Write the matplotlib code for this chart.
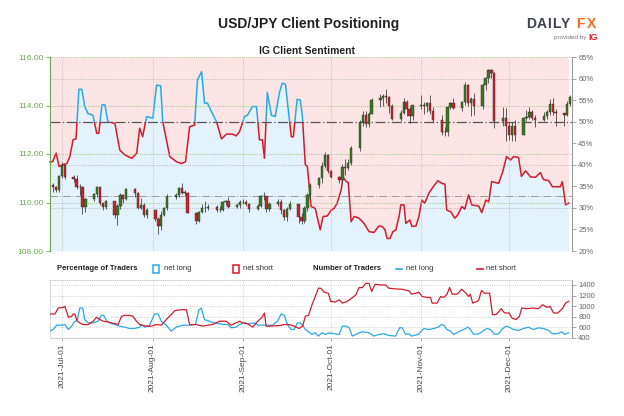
import numpy as np
import pandas as pd
import matplotlib
matplotlib.use('Agg')
import matplotlib.pyplot as plt
import matplotlib.dates as mdates
from matplotlib.patches import Rectangle
from matplotlib.lines import Line2D
from datetime import datetime

plt.rcParams['font.family'] = ['Liberation Sans', 'DejaVu Sans']

# USD/JPY daily candles, business days 2021-06-28 .. 2021-12-22
days = pd.bdate_range('2021-06-28', '2021-12-22')
close = [110.62, 110.50, 111.10,
         111.54, 111.05, 110.95, 110.62, 110.64, 109.80, 110.14, 110.35, 110.62, 109.97, 109.82,
         110.06, 109.49, 109.84, 110.31, 110.16, 110.55, 110.39, 109.77, 109.90, 109.48, 109.70,
         109.30, 109.05, 109.47, 109.77, 110.24, 110.29, 110.58, 110.41, 110.40, 109.58, 109.24,
         109.61, 109.76, 109.77, 109.80, 109.71, 109.68, 110.01, 110.05, 109.83, 109.91, 110.02,
         110.01, 109.93, 109.72, 109.85, 110.28, 110.25, 109.72, 109.93, 110.02, 109.68, 109.39,
         109.72, 109.92, 109.40, 109.22, 109.78, 110.32, 110.74, 111.00, 111.50, 111.94, 111.28,
         111.04, 110.92, 111.45, 111.41, 111.62, 112.23, 113.31, 113.61, 113.23, 113.67, 114.21,
         114.32, 114.40, 114.36, 114.00, 113.45, 113.68, 114.13, 113.84, 113.58, 114.00,
         114.03, 113.96, 114.09, 113.76, 113.42, 112.89, 112.89, 113.92, 114.12, 113.90, 114.13,
         114.83, 114.10, 114.28, 114.00, 114.86, 115.12, 115.45, 115.35, 113.38, 113.48, 113.16,
         112.79, 113.16, 112.80, 113.47, 113.54, 113.72, 113.48, 113.40, 113.56, 113.73, 114.07,
         113.72, 113.71, 113.60, 114.08, 114.35]
high = [110.82, 110.70, 111.12,
        111.66, 111.60, 111.14, 111.15, 110.77, 110.70, 110.20, 110.40, 110.70, 110.65, 110.00,
        110.10, 110.07, 109.94, 110.41, 110.35, 110.59, 110.59, 110.43, 110.20, 109.96, 109.78,
        109.69, 109.42, 109.66, 109.82, 110.37, 110.38, 110.63, 110.80, 110.52, 110.45, 109.62,
        109.67, 109.92, 110.08, 109.94, 109.90, 109.85, 110.07, 110.11, 110.23, 110.00, 110.09,
        110.16, 110.11, 110.00, 109.92, 110.30, 110.45, 110.25, 110.03, 110.15, 110.15, 109.73,
        109.80, 110.08, 109.94, 109.55, 109.86, 110.41, 110.79, 111.07, 111.68, 112.07, 112.01,
        111.35, 111.10, 111.60, 111.80, 111.81, 112.35, 113.41, 113.79, 113.77, 113.73, 114.30,
        114.47, 114.48, 114.70, 114.40, 114.05, 113.80, 114.30, 114.21, 114.00, 114.00,
        114.44, 114.13, 114.16, 114.45, 113.92, 113.62, 113.12, 113.98, 114.15, 114.30, 114.18,
        114.97, 114.90, 114.37, 114.50, 114.91, 115.16, 115.52, 115.49, 115.37, 113.93, 113.90,
        113.34, 113.30, 113.40, 113.52, 113.80, 113.95, 113.80, 113.60, 113.75, 113.80, 114.25,
        114.29, 113.85, 113.71, 114.18, 114.42]
low = [110.42, 110.43, 110.45,
       111.00, 110.95, 110.86, 110.54, 110.32, 109.53, 109.62, 110.06, 110.23, 109.88, 109.70,
       109.72, 109.37, 109.07, 109.74, 109.97, 110.10, 110.22, 109.74, 109.72, 109.41, 109.36,
       109.22, 108.72, 108.88, 109.43, 109.68, 110.16, 110.23, 110.35, 110.28, 109.55, 109.11,
       109.18, 109.55, 109.60, 109.68, 109.59, 109.60, 109.64, 109.90, 109.76, 109.78, 109.76,
       109.93, 109.84, 109.59, 109.70, 109.80, 110.12, 109.61, 109.67, 109.85, 109.54, 109.28,
       109.25, 109.68, 109.14, 109.11, 109.14, 109.65, 110.16, 110.59, 110.80, 111.44, 111.21,
       110.99, 110.80, 110.80, 111.12, 111.34, 111.56, 112.14, 113.15, 113.13, 113.10, 113.65,
       113.92, 114.00, 114.10, 113.70, 113.41, 113.38, 113.65, 113.55, 113.26, 113.41,
       113.85, 113.65, 113.75, 113.66, 113.30, 112.79, 112.73, 112.75, 113.85, 113.84, 113.77,
       114.03, 114.00, 113.58, 113.60, 113.86, 114.64, 114.93, 115.12, 113.06, 113.17, 112.54,
       112.56, 112.54, 112.53, 112.80, 113.38, 113.45, 113.40, 113.10, 113.37, 113.45, 113.60,
       113.60, 113.14, 113.14, 113.56, 114.00]
open_ = [110.72] + close[:-1]

# % of IG clients net long, days counted from 2021-07-01
sent_day = [-4.1, -3.2, -2.0, -1.0, 0.3, 1.7, 2.7, 3.8, 4.8, 5.8, 6.8, 7.8, 8.9, 10.6, 11.9,
            12.6, 13.7, 14.7, 15.7, 18.1, 19.8, 21.5, 23.9, 25.6, 26.6, 27.6, 29.0, 31.1, 32.4,
            33.8, 34.5, 36.9, 39.2, 41.0, 42.3, 43.7, 45.4, 46.4, 47.8, 48.8, 49.8, 51.5, 52.9,
            54.6, 56.3, 58.4, 59.7, 60.8, 62.5, 63.5, 65.2, 66.6, 67.6, 68.6, 69.3, 70.3, 71.7,
            73.0, 74.4, 75.4, 76.5, 78.5, 79.2, 80.5, 81.6, 82.3, 83.3, 84.0, 85.3, 86.7, 88.4,
            89.4, 90.8, 92.2, 93.2, 94.2, 95.6, 96.2, 97.3, 98.0, 99.0, 100.0, 101.7, 103.4,
            105.1, 106.8, 108.5, 109.6, 110.6, 111.3, 112.3, 113.3, 114.3, 115.4, 116.0, 117.1,
            117.7, 119.1, 119.8, 121.2, 122.2, 123.2, 124.2, 125.6, 127.3, 128.7, 130.0, 131.1,
            131.7, 133.1, 134.5, 135.5, 136.9, 137.9, 139.2, 140.3, 142.7, 143.7, 145.1, 146.1,
            147.1, 149.5, 150.9, 152.2, 153.6, 154.6, 156.3, 157.3, 158.7, 160.4, 162.1, 163.8,
            164.8, 166.6, 167.9, 170.6, 171.3, 172.4, 173.4]
sent_long = [40.7, 40.7, 42.7, 39.6, 40.0, 40.3, 41.9, 45.8, 46.0, 57.5, 57.5, 53.5, 51.9, 51.5,
             47.3, 47.3, 53.9, 53.9, 50.0, 49.6, 43.4, 42.3, 41.5, 42.7, 48.5, 46.5, 51.2, 50.8,
             58.5, 58.3, 50.0, 41.9, 40.7, 40.3, 40.7, 48.8, 49.2, 59.7, 61.6, 54.3, 54.3, 51.9,
             50.0, 46.0, 47.1, 47.1, 46.7, 47.7, 51.2, 51.5, 53.5, 53.5, 45.8, 45.8, 41.5, 56.8,
             51.5, 51.2, 56.6, 58.9, 58.7, 46.5, 46.5, 55.2, 55.0, 51.2, 40.0, 39.6, 30.3, 29.9,
             24.9, 28.0, 28.1, 29.5, 29.9, 31.1, 34.2, 37.1, 36.1, 35.9, 26.8, 28.0, 27.6, 26.4,
             24.5, 24.3, 25.8, 25.7, 24.9, 22.9, 22.9, 24.5, 24.9, 28.0, 30.7, 30.7, 26.4, 27.2,
             25.7, 25.8, 28.0, 31.8, 31.1, 33.4, 35.1, 36.3, 35.7, 35.5, 29.5, 29.1, 27.6, 28.4,
             30.3, 29.7, 33.0, 30.7, 30.4, 28.9, 31.8, 31.4, 36.1, 35.7, 38.4, 41.9, 41.1, 41.9,
             41.7, 37.3, 38.6, 37.2, 37.1, 38.2, 36.6, 36.3, 34.9, 34.9, 36.1, 30.7, 31.1]

# number of traders, days counted from 2021-07-01
short_day = [-4.1, -2.4, -1.3, 0.4, 1.0, 2.2, 3.3, 3.9, 4.4, 5.2, 6.1, 7.3, 9.0, 10.7, 11.8,
             13.0, 14.1, 15.8, 17.0, 18.1, 19.2, 20.4, 21.5, 23.2, 24.3, 25.5, 26.6, 28.9, 30.6,
             32.3, 34.0, 35.7, 37.4, 38.6, 40.9, 42.6, 43.7, 46.0, 48.2, 49.9, 51.6, 53.9, 56.2,
             57.9, 59.6, 60.8, 61.9, 63.6, 65.3, 66.5, 67.6, 68.5, 69.3, 69.9, 71.0, 72.7, 74.4,
             76.1, 77.8, 79.5, 81.2, 82.4, 83.3, 84.4, 85.6, 86.7, 87.8, 88.6, 89.8, 91.2, 92.0,
             93.5, 94.9, 96.0, 97.7, 99.2, 100.6, 101.7, 102.8, 104.0, 105.1, 106.0, 107.2,
             109.1, 110.8, 111.9, 114.2, 116.5, 118.8, 119.7, 121.1, 122.2, 123.3, 125.0, 126.2,
             126.7, 128.4, 129.6, 130.7, 131.8, 132.7, 133.6, 135.3, 136.8, 138.1, 139.2, 139.8,
             140.6, 142.1, 142.7, 143.6, 144.7, 146.4, 147.4, 148.6, 150.4, 151.5, 153.1, 154.0,
             155.4, 156.6, 157.4, 159.1, 161.4, 163.1, 164.5, 166.0, 167.1, 168.3, 169.7, 171.3,
             172.4, 173.4]
short_n = [850, 850, 963, 975, 994, 788, 806, 850, 850, 713, 681, 650, 650, 713, 788, 744, 713,
           700, 681, 669, 650, 806, 825, 825, 806, 713, 650, 619, 619, 650, 638, 744, 838, 913,
           931, 931, 650, 650, 619, 638, 650, 713, 713, 638, 681, 713, 681, 663, 600, 681, 744,
           788, 869, 619, 619, 625, 631, 650, 650, 619, 575, 619, 806, 825, 1025, 1181, 1338,
           1338, 1263, 1244, 1088, 1075, 1119, 1056, 1088, 1150, 1213, 1350, 1350, 1431, 1431,
           1275, 1413, 1400, 1400, 1338, 1325, 1319, 1288, 1225, 1244, 1263, 1181, 1163, 1163,
           1056, 1056, 1181, 1163, 1225, 1350, 1225, 1225, 1319, 1256, 1181, 1225, 1056, 1088,
           1119, 1294, 1244, 1244, 838, 838, 950, 869, 869, 775, 744, 806, 963, 950, 963, 950,
           1025, 975, 994, 869, 869, 950, 1056, 1088]
long_day = [-4.1, -3.0, -1.8, -0.1, 1.0, 2.2, 3.3, 4.4, 5.2, 6.1, 7.1, 7.8, 9.0, 10.7, 12.4,
            13.5, 14.3, 15.3, 16.4, 18.1, 19.8, 21.5, 23.2, 24.9, 26.6, 27.2, 28.3, 30.0, 31.7,
            32.9, 34.0, 35.7, 37.4, 39.1, 41.4, 43.7, 45.7, 46.9, 47.7, 48.8, 50.5, 52.2, 53.9,
            55.6, 56.8, 57.9, 59.6, 60.8, 62.5, 64.2, 65.9, 67.3, 68.7, 69.9, 72.1, 73.8, 75.0,
            76.1, 77.2, 78.4, 79.5, 80.6, 81.6, 82.4, 83.3, 84.4, 85.6, 86.7, 87.8, 89.0, 90.1,
            91.5, 93.2, 94.9, 96.0, 97.2, 98.3, 99.4, 101.1, 102.8, 105.1, 106.8, 108.5, 110.2,
            111.9, 114.2, 115.6, 116.5, 117.6, 118.8, 119.7, 121.1, 122.2, 123.9, 125.6, 127.3,
            128.8, 129.9, 130.7, 131.8, 133.0, 134.1, 135.8, 137.5, 139.0, 139.8, 140.9, 142.7,
            144.4, 145.5, 146.7, 148.1, 149.5, 150.6, 152.0, 153.1, 154.6, 156.3, 158.0, 159.7,
            161.4, 163.1, 164.8, 166.6, 167.9, 169.4, 171.1, 172.0, 173.4]
long_n = [525, 556, 638, 638, 650, 556, 619, 713, 725, 963, 963, 744, 681, 681, 713, 825, 825,
          713, 681, 650, 619, 600, 575, 575, 600, 650, 600, 638, 850, 850, 713, 638, 525, 600,
          638, 638, 650, 931, 963, 744, 713, 681, 663, 650, 650, 588, 600, 650, 681, 663, 681,
          638, 638, 638, 638, 713, 850, 825, 650, 556, 556, 681, 681, 638, 556, 513, 463, 494,
          431, 494, 463, 494, 475, 463, 619, 619, 588, 431, 475, 513, 494, 431, 463, 475, 444,
          431, 588, 588, 463, 475, 431, 450, 475, 575, 556, 575, 600, 650, 638, 556, 525, 463,
          513, 556, 600, 556, 463, 475, 538, 575, 556, 463, 475, 556, 619, 600, 556, 538, 575,
          600, 556, 588, 575, 538, 475, 475, 513, 463, 494]

BLUE = '#29a8e8'
RED = '#d51a2b'
GREEN_TXT = '#6aa84f'
GREY_TXT = '#666666'
PINK = '#fde4e5'
LIGHTBLUE = '#e4f2fc'

base = mdates.date2num(datetime(2021, 7, 1))
x_lo, x_hi = base - 4.1, base + 174.6

fig = plt.figure(figsize=(6.24, 4.16), dpi=100)

fig.text(0.494, 0.942, 'USD/JPY Client Positioning', ha='center', va='center',
         fontsize=10, fontweight='bold', color='#222222')
fig.text(0.492, 0.877, 'IG Client Sentiment', ha='center', va='center',
         fontsize=7.5, fontweight='bold', color='#222222')

# logo
for ch, px, col in [('D', 531.5, '#3c4250'), ('A', 541.5, '#3c4250'), ('I', 549, '#3c4250'),
                    ('L', 556, '#3c4250'), ('Y', 565.5, '#3c4250'),
                    ('F', 580, '#f26b21'), ('X', 591.5, '#f26b21')]:
    fig.text(px / 624, 1 - 24 / 416, ch, ha='center', va='center', fontsize=10,
             fontweight='heavy', color=col)
fig.text(586 / 624, 1 - 38 / 416, 'provided by', ha='right', va='center', fontsize=4.5,
         color='#777777')
fig.text(588 / 624, 1 - 38 / 416, 'IG', ha='left', va='center', fontsize=6.5,
         fontweight='bold', color='#e3242b')

# main chart
ax = fig.add_axes([50 / 624, 1 - 251 / 416, 522 / 624, 194 / 416])
ax2 = ax.twinx()
ax.set_zorder(2)
ax2.set_zorder(1)
ax.patch.set_visible(False)

sx = base + np.array(sent_day)
sl = np.array(sent_long)
ax2.fill_between(sx, 20, sl, color=LIGHTBLUE, lw=0, zorder=1)
ax2.fill_between(sx, sl, 65, color=PINK, lw=0, zorder=1)
for v in [30, 40, 60]:
    ax2.axhline(v, color='#b0b0b0', lw=0.6, ls=(0, (1, 1.5)), zorder=2)
ax2.axhline(50, color='#555555', lw=0.9, ls=(0, (8, 2, 1, 2)), zorder=2)
ax2.axhline(32.8, color='#9a9a9a', lw=0.7, ls=(0, (8, 2, 1, 2)), zorder=2)
ln_b, = ax2.plot(sx, sl, color=BLUE, lw=1.1, zorder=3)
ln_r, = ax2.plot(sx, sl, color=RED, lw=1.1, zorder=3)
ln_b.set_clip_path(Rectangle((x_lo - 5, 50), 200, 30, transform=ax2.transData))
ln_r.set_clip_path(Rectangle((x_lo - 5, 0), 200, 50, transform=ax2.transData))
ax2.set_ylim(20, 65)
ax2.set_yticks(range(20, 66, 5))
ax2.set_yticklabels([f'{v}%' for v in range(20, 66, 5)])
ax2.tick_params(axis='y', colors='#999999', labelcolor=GREY_TXT, labelsize=5.5, length=3,
                width=0.6, pad=1.5)

xd = mdates.date2num(days)
o, c = np.array(open_), np.array(close)
h, l = np.array(high), np.array(low)
cols = np.where(c >= o, '#3a7a1f', '#d0202e')
for v in [108, 110, 112, 114, 116]:
    ax.axhline(v, color='#8fbf6f', lw=0.6, ls=(0, (1, 1.5)), zorder=2)
for m in mdates.date2num(pd.date_range('2021-07-01', '2021-12-01', freq='MS')):
    ax.axvline(m, color='#b8b8b8', lw=0.6, ls=(0, (1, 1.5)), zorder=2)
ax.vlines(xd, l, h, color='#444444', lw=0.6, zorder=3)
ax.bar(xd, np.maximum(np.abs(c - o), 0.025), bottom=np.minimum(o, c), width=0.8,
       color=cols, edgecolor='#2b2b2b', linewidth=0.3, zorder=4)
ax.set_ylim(108, 116)
ax.set_xlim(x_lo, x_hi)
ax.set_yticks([108, 110, 112, 114, 116])
ax.set_yticklabels([f'{v:.2f}' for v in [108, 110, 112, 114, 116]])
ax.tick_params(axis='y', colors=GREEN_TXT, labelcolor=GREEN_TXT, labelsize=6, length=3,
               width=0.6, pad=1.5)
ax.tick_params(axis='x', length=0, labelbottom=False)
for s in ['top', 'bottom', 'right']:
    ax.spines[s].set_visible(False)
ax.spines['left'].set_color(GREEN_TXT)
ax.spines['left'].set_linewidth(0.8)
for s in ['top', 'bottom', 'left']:
    ax2.spines[s].set_visible(False)
ax2.spines['right'].set_color('#999999')
ax2.spines['right'].set_linewidth(0.8)

# legend row
ly = 1 - 269 / 416
fig.text(57 / 624, ly, 'Percentage of Traders', ha='left', va='center', fontsize=5.5,
         fontweight='bold', color='#222222')
fig.add_artist(Rectangle((153 / 624, 1 - 273 / 416), 6 / 624, 8 / 416, transform=fig.transFigure,
                         facecolor='white', edgecolor=BLUE, lw=1.1))
fig.text(164 / 624, ly, 'net long', ha='left', va='center', fontsize=5.5, color='#333333')
fig.add_artist(Rectangle((233 / 624, 1 - 273 / 416), 6 / 624, 8 / 416, transform=fig.transFigure,
                         facecolor='white', edgecolor=RED, lw=1.1))
fig.text(243 / 624, ly, 'net short', ha='left', va='center', fontsize=5.5, color='#333333')
fig.text(313 / 624, ly, 'Number of Traders', ha='left', va='center', fontsize=5.5,
         fontweight='bold', color='#222222')
fig.add_artist(Line2D([396 / 624, 402 / 624], [ly, ly], transform=fig.transFigure,
                      color=BLUE, lw=1.2))
fig.text(406 / 624, ly, 'net long', ha='left', va='center', fontsize=5.5, color='#333333')
fig.add_artist(Line2D([477 / 624, 483 / 624], [ly, ly], transform=fig.transFigure,
                      color=RED, lw=1.2))
fig.text(486 / 624, ly, 'net short', ha='left', va='center', fontsize=5.5, color='#333333')

# traders count panel
ax3 = fig.add_axes([50 / 624, 1 - 338 / 416, 522 / 624, 58 / 416])
ax3.plot(base + np.array(long_day), long_n, color=BLUE, lw=0.9, zorder=3)
ax3.plot(base + np.array(short_day), short_n, color=RED, lw=0.9, zorder=3)
ax3.set_xlim(x_lo, x_hi)
ax3.set_ylim(395, 1494)
ax3.yaxis.tick_right()
ax3.set_yticks(range(400, 1401, 200))
ax3.tick_params(axis='y', colors='#999999', labelcolor=GREY_TXT, labelsize=5.5, length=3,
                width=0.6, pad=1.5)
ax3.xaxis.set_major_locator(mdates.MonthLocator())
ax3.xaxis.set_major_formatter(mdates.DateFormatter('%Y-%b-%d'))
ax3.tick_params(axis='x', colors='#999999', labelcolor='#444444', labelsize=6, length=2,
                width=0.6, pad=2, labelrotation=90)
ax3.grid(True, color='#c8c8c8', lw=0.6, ls=(0, (1, 1.5)))
for s in ['top', 'left']:
    ax3.spines[s].set_color('#c8c8c8')
    ax3.spines[s].set_linestyle((0, (1, 1.5)))
    ax3.spines[s].set_linewidth(0.6)
ax3.spines['bottom'].set_color('#cfcfcf')
ax3.spines['bottom'].set_linewidth(0.8)
ax3.spines['right'].set_color('#999999')
ax3.spines['right'].set_linewidth(0.8)

fig.savefig('out.png', dpi=100)
